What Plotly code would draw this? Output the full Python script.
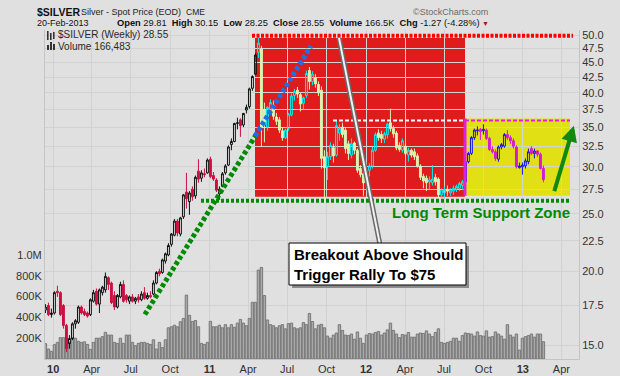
import math
import pandas as pd
import plotly.graph_objects as go

# ---------------- data (weekly, week starting Monday) ----------------
dates = pd.date_range("2009-12-14", periods=167, freq="7D")

opens = [17.2, 17.5, 16.9, 17.0, 18.5, 18.4, 17.5, 16.2, 15.1, 15.4,
         16.3, 16.4, 17.4, 17.1, 17.0, 16.9, 17.8, 18.5, 17.6, 18.4,
         18.6, 19.5, 19.1, 18.2, 17.4, 18.1, 19.0, 18.2, 17.8, 18.1,
         17.8, 18.1, 17.9, 18.4, 18.0, 18.2, 18.3, 19.1, 20.0, 19.9,
         20.8, 21.3, 22.2, 23.0, 24.3, 23.1, 24.7, 27.2, 26.2, 27.5,
         26.8, 29.5, 28.7, 29.2, 29.3, 30.9, 29.0, 28.5, 27.0, 27.8,
         29.3, 30.2, 32.7, 33.1, 35.5, 36.0, 35.3, 37.4, 37.9, 40.7,
         43.0, 46.8, 47.4, 37.5, 35.0, 37.2, 38.1, 36.4, 36.0, 34.5,
         33.6, 34.8, 36.7, 39.6, 40.4, 39.7, 38.4, 39.6, 43.6, 41.8,
         42.4, 41.3, 40.4, 31.2, 30.0, 31.2, 32.3, 31.4, 34.2, 35.0,
         34.6, 32.8, 31.4, 32.9, 32.0, 29.8, 29.2, 28.4, 29.6, 30.1,
         32.0, 34.2, 34.0, 33.4, 34.0, 35.6, 34.8, 34.2, 32.6, 32.0,
         32.5, 31.4, 32.0, 31.8, 31.3, 30.1, 28.9, 28.7, 28.3, 28.2,
         28.8, 28.6, 26.9, 27.1, 27.5, 27.1, 27.3, 27.5, 27.6, 27.9,
         28.3, 30.6, 31.6, 33.6, 34.5, 34.7, 34.5, 34.6, 33.5, 32.1,
         31.8, 30.9, 32.4, 32.5, 34.0, 33.6, 33.2, 32.4, 29.9, 30.0,
         30.1, 30.6, 32.2, 31.6, 31.9, 31.5, 29.81]
highs = [17.6, 17.7, 17.3, 18.5, 18.9, 18.5, 17.6, 16.3, 15.6, 16.4,
         16.6, 17.5, 17.5, 17.3, 17.1, 18.0, 18.6, 18.7, 18.7, 18.9,
         19.9, 19.6, 19.2, 18.5, 18.3, 19.2, 19.3, 18.3, 18.2, 18.3,
         18.1, 18.3, 18.5, 18.8, 18.4, 18.5, 19.3, 20.0, 20.2, 21.0,
         21.5, 22.3, 23.2, 24.5, 24.5, 24.7, 27.0, 29.3, 27.3, 27.8,
         29.0, 30.9, 29.6, 29.8, 31.0, 31.2, 29.4, 28.7, 27.8, 29.4,
         30.3, 32.6, 33.5, 35.6, 36.3, 36.2, 37.0, 38.2, 40.8, 42.8,
         46.6, 49.8, 48.0, 38.5, 38.0, 39.0, 38.8, 37.0, 36.4, 35.0,
         34.8, 37.0, 39.9, 40.6, 40.9, 40.0, 39.4, 43.6, 44.2, 43.5,
         43.0, 41.8, 41.0, 32.0, 31.8, 33.0, 32.8, 35.8, 35.4, 35.6,
         35.0, 33.2, 33.5, 33.1, 32.2, 30.2, 29.6, 29.9, 30.4, 32.4,
         34.3, 34.7, 34.5, 34.4, 35.6, 37.6, 35.2, 34.5, 33.0, 33.5,
         32.8, 32.3, 32.2, 32.2, 31.6, 30.3, 29.2, 29.0, 28.9, 30.2,
         29.2, 28.8, 27.6, 27.8, 27.9, 27.6, 27.9, 28.0, 28.3, 28.5,
         30.8, 31.8, 33.8, 34.8, 35.1, 34.9, 35.4, 34.8, 33.7, 32.5,
         32.1, 32.6, 32.9, 34.2, 34.6, 33.9, 33.5, 32.6, 30.5, 30.5,
         31.0, 32.2, 32.5, 32.2, 32.0, 31.7, 30.15]
lows = [17.0, 16.8, 16.7, 16.9, 18.1, 16.8, 16.0, 14.6, 14.8, 15.3,
        16.0, 16.3, 16.9, 16.8, 16.7, 16.8, 17.7, 17.5, 17.0, 18.2,
        18.4, 18.6, 17.6, 17.2, 17.3, 18.0, 17.7, 17.7, 17.6, 17.7,
        17.6, 17.7, 17.8, 17.9, 17.9, 18.0, 18.2, 19.0, 19.6, 19.8,
        20.6, 21.2, 22.0, 22.9, 22.9, 22.9, 24.5, 25.5, 24.9, 26.3,
        26.5, 28.2, 28.3, 28.8, 29.2, 28.7, 28.4, 27.2, 26.4, 27.7,
        29.1, 30.1, 32.0, 33.0, 34.7, 33.7, 35.0, 36.9, 37.6, 40.3,
        42.8, 45.8, 32.4, 33.0, 34.5, 36.8, 36.0, 35.3, 34.2, 33.2,
        33.4, 34.5, 36.5, 38.8, 39.2, 37.2, 37.5, 39.2, 40.5, 41.2,
        40.8, 39.5, 29.8, 26.4, 28.5, 30.8, 30.5, 31.2, 33.2, 33.6,
        31.6, 30.8, 31.0, 31.5, 29.3, 28.8, 26.8, 28.2, 28.9, 29.8,
        31.8, 33.2, 32.9, 32.9, 33.5, 34.4, 33.6, 32.0, 31.8, 31.7,
        31.3, 30.6, 31.1, 30.8, 29.9, 28.5, 27.6, 27.3, 27.5, 27.9,
        27.9, 26.6, 26.6, 26.6, 26.8, 26.8, 26.9, 27.2, 27.3, 27.4,
        28.0, 30.4, 31.4, 33.3, 33.9, 33.3, 34.0, 33.3, 31.9, 31.6,
        30.7, 30.6, 32.1, 32.3, 33.3, 32.8, 32.2, 29.8, 29.8, 29.1,
        29.8, 30.3, 31.4, 31.0, 31.2, 29.7, 28.25]
closes = [17.4, 16.9, 17.0, 18.4, 18.4, 16.9, 16.2, 14.8, 15.4, 16.3,
          16.5, 17.4, 17.0, 16.9, 16.8, 17.9, 18.4, 17.6, 18.6, 18.8,
          19.6, 19.0, 17.7, 17.4, 18.2, 19.0, 17.8, 17.9, 18.1, 17.8,
          18.0, 17.9, 18.3, 18.0, 18.2, 18.1, 19.1, 19.9, 19.8, 20.9,
          21.4, 22.1, 23.1, 24.3, 23.2, 24.6, 26.9, 26.5, 27.1, 26.7,
          28.8, 28.6, 29.3, 29.1, 30.8, 28.9, 28.6, 27.4, 27.5, 29.2,
          30.1, 32.4, 33.1, 35.5, 35.6, 35.2, 36.9, 37.8, 40.6, 42.6,
          46.3, 48.5, 35.0, 35.4, 37.8, 38.5, 36.5, 35.8, 34.6, 33.6,
          34.6, 36.8, 39.5, 40.2, 39.8, 38.3, 39.2, 43.1, 41.8, 43.0,
          41.4, 40.0, 31.0, 29.9, 31.2, 32.6, 31.3, 35.2, 34.8, 34.0,
          32.2, 31.6, 32.8, 32.0, 29.6, 29.1, 28.2, 29.6, 30.1, 32.0,
          34.0, 33.6, 33.5, 34.1, 35.4, 34.8, 34.1, 32.3, 32.1, 33.2,
          31.6, 32.0, 31.4, 31.2, 30.1, 28.8, 28.4, 28.2, 28.5, 28.6,
          28.3, 26.9, 27.4, 27.5, 27.3, 27.4, 27.6, 27.8, 28.1, 28.3,
          30.6, 31.6, 33.6, 34.6, 34.6, 34.4, 34.7, 33.5, 32.1, 31.8,
          31.0, 32.4, 32.7, 34.0, 33.6, 33.2, 32.5, 30.0, 30.1, 30.2,
          30.7, 31.8, 31.6, 31.9, 31.5, 29.8, 28.55]
volumes_k = [147, 96, 74, 138, 160, 205, 205, 205, 160, 205,
             200, 170, 160, 165, 140, 93, 160, 200, 200, 215,
             256, 230, 230, 160, 150, 200, 150, 230, 230, 160,
             128, 150, 160, 160, 150, 140, 185, 96, 160, 110,
             185, 300, 310, 325, 310, 358, 390, 614, 420, 360,
             370, 310, 150, 140, 160, 362, 310, 310, 325, 300,
             330, 300, 330, 305, 345, 380, 345, 320, 390, 545,
             545, 855, 880, 610, 375, 330, 320, 300, 320, 330,
             290, 340, 345, 300, 290, 300, 350, 330, 438, 360,
             290, 326, 333, 300, 220, 200, 230, 250, 330, 275,
             230, 225, 240, 190, 260, 200, 150, 230, 245, 240,
             255, 265, 230, 250, 280, 345, 275, 240, 205, 235,
             230, 255, 210, 210, 240, 250, 245, 270, 240, 215,
             255, 290, 160, 150, 160, 170, 200, 200, 170, 225,
             250, 245, 240, 220, 260, 225, 220, 270, 210, 215,
             260, 240, 220, 190, 330, 230, 210, 240, 86, 200,
             215, 225, 240, 210, 240, 240, 166]

price_ticks = [15.0, 17.5, 20.0, 22.5, 25.0, 27.5, 30.0, 32.5, 35.0, 37.5,
               40.0, 42.5, 45.0, 47.5, 50.0]
vol_ticks = [200e3, 400e3, 600e3, 800e3, 1.0e6]
vol_tick_text = ["200K", "400K", "600K", "800K", "1.0M"]
x_tick_dates = ["2010-01-01", "2010-04-01", "2010-07-01", "2010-10-01",
                "2011-01-01", "2011-04-01", "2011-07-01", "2011-10-01",
                "2012-01-01", "2012-04-01", "2012-07-01", "2012-10-01",
                "2013-01-01", "2013-04-01"]
x_tick_text = ["<b>10</b>", "Apr", "Jul", "Oct", "<b>11</b>", "Apr", "Jul", "Oct",
               "<b>12</b>", "Apr", "Jul", "Oct", "<b>13</b>", "Apr"]

# annotation geometry (data units)
RED_ZONE = ("2011-04-17", "2012-08-19", 26.7, 49.5)
YELLOW_ZONE = ("2012-08-19", "2013-04-21", 26.8, 36.2)
TOP_LINE = ("2011-04-10", "2013-04-28", 49.9)
SUPPORT_LINE = ("2010-12-12", "2013-04-19", 26.3)
RESIST_LINE_W = ("2011-10-16", "2012-08-19", 35.9)
RESIST_LINE_M = ("2012-08-19", "2013-04-21", 35.9)
GREEN_TREND = ("2010-08-03", 16.9, "2011-04-22", 34.2)
BLUE_TREND = ("2011-04-17", 33.8, "2011-08-26", 48.0)
POINTER = ("2011-10-30", 49.5, "2012-02-02", 22.3)
ARROW_HEAD = ("2013-04-30", 35.2)

# ---------------- figure ----------------
BG = "#e0e0e0"
FONT = "Liberation Sans, Arial, sans-serif"

df = pd.DataFrame({"d": dates, "o": opens, "h": highs, "l": lows, "c": closes,
                   "v": [v * 1000 for v in volumes_k]})

fig = go.Figure()
fig.add_trace(go.Bar(x=df["d"], y=df["v"], yaxis="y",
                     width=7 * 24 * 3600 * 1000 * 0.8,
                     marker=dict(color="#a9a9a9", line=dict(color="#787878", width=1)),
                     hoverinfo="skip"))

split_red = pd.Timestamp(RED_ZONE[0]) + pd.Timedelta(days=3)
split_yel = pd.Timestamp(YELLOW_ZONE[0])
seg_pre = df[df["d"] < split_red]
seg_red = df[(df["d"] >= split_red) & (df["d"] < split_yel)]
seg_yel = df[df["d"] >= split_yel]

styles = [
    (seg_pre, "#111111", "rgba(0,0,0,0)", "#cc1040", "#cc1040"),
    (seg_red, "#00f0f0", "rgba(0,0,0,0)", "#d8f4b4", "#d8f4b4"),
    (seg_yel, "#1414f0", "rgba(0,0,0,0)", "#d41cd4", "#d41cd4"),
]
for seg, il, ifc, dl, dfc in styles:
    fig.add_trace(go.Candlestick(
        x=seg["d"], open=seg["o"], high=seg["h"], low=seg["l"], close=seg["c"],
        yaxis="y2", whiskerwidth=0,
        increasing=dict(line=dict(color=il, width=1), fillcolor=ifc),
        decreasing=dict(line=dict(color=dl, width=1), fillcolor=dfc),
        hoverinfo="skip"))

shapes = []
shapes.append(dict(type="rect", xref="x", yref="y2", x0=RED_ZONE[0], x1=RED_ZONE[1],
                   y0=RED_ZONE[2], y1=RED_ZONE[3], fillcolor="#e01b1b",
                   line=dict(width=0), layer="below"))
shapes.append(dict(type="rect", xref="x", yref="y2", x0=YELLOW_ZONE[0], x1=YELLOW_ZONE[1],
                   y0=YELLOW_ZONE[2], y1=YELLOW_ZONE[3], fillcolor="#e0e014",
                   line=dict(width=0), layer="below"))
shapes.append(dict(type="line", xref="x", yref="y2", x0=YELLOW_ZONE[0], x1=YELLOW_ZONE[0],
                   y0=YELLOW_ZONE[2], y1=YELLOW_ZONE[3],
                   line=dict(color="#e020e0", width=3), layer="above"))
shapes.append(dict(type="line", xref="x", yref="y2", x0=RESIST_LINE_M[0], x1=RESIST_LINE_M[1],
                   y0=RESIST_LINE_M[2], y1=RESIST_LINE_M[2],
                   line=dict(color="#e020e0", width=2, dash="4px,2px"), layer="above"))
shapes.append(dict(type="line", xref="x", yref="y2", x0=RESIST_LINE_W[0], x1=RESIST_LINE_W[1],
                   y0=RESIST_LINE_W[2], y1=RESIST_LINE_W[2],
                   line=dict(color="#ffffff", width=2, dash="4px,2px"), layer="above"))
shapes.append(dict(type="line", xref="x", yref="y2", x0=TOP_LINE[0], x1=TOP_LINE[1],
                   y0=TOP_LINE[2], y1=TOP_LINE[2],
                   line=dict(color="#ff0000", width=4, dash="3px,1.5px"), layer="above"))
shapes.append(dict(type="line", xref="x", yref="y2", x0=SUPPORT_LINE[0], x1=SUPPORT_LINE[1],
                   y0=SUPPORT_LINE[2], y1=SUPPORT_LINE[2],
                   line=dict(color="#008a00", width=4, dash="3px,2px"), layer="above"))
shapes.append(dict(type="line", xref="x", yref="y2", x0=GREEN_TREND[0], y0=GREEN_TREND[1],
                   x1=GREEN_TREND[2], y1=GREEN_TREND[3],
                   line=dict(color="#008a00", width=5, dash="4px,2.5px"), layer="above"))
shapes.append(dict(type="line", xref="x", yref="y2", x0=BLUE_TREND[0], y0=BLUE_TREND[1],
                   x1=BLUE_TREND[2], y1=BLUE_TREND[3],
                   line=dict(color="#1a72e6", width=5, dash="4px,2.5px"), layer="above"))
shapes.append(dict(type="line", xref="x", yref="y2", x0=POINTER[0], y0=POINTER[1],
                   x1=POINTER[2], y1=POINTER[3],
                   line=dict(color="#6a6a6a", width=5), layer="above"))
shapes.append(dict(type="line", xref="x", yref="y2", x0=POINTER[0], y0=POINTER[1],
                   x1=POINTER[2], y1=POINTER[3],
                   line=dict(color="#f2f2f2", width=2), layer="above"))


def px(x):
    return (x - 45) / 534.0


def py(y):
    return (359 - y) / 329.0


# callout box with shadow
shapes.append(dict(type="rect", xref="paper", yref="paper", x0=px(292), x1=px(469),
                   y0=py(288), y1=py(246), fillcolor="#8c8c8c", line=dict(width=0),
                   layer="above"))
shapes.append(dict(type="rect", xref="paper", yref="paper", x0=px(289), x1=px(466),
                   y0=py(285), y1=py(243), fillcolor="#ffffff",
                   line=dict(color="#000000", width=1), layer="above"))
# legend icons
for (a, t, bt) in [(47, 31, 40), (50, 33, 40), (53, 32, 39)]:
    shapes.append(dict(type="rect", xref="paper", yref="paper", x0=px(a), x1=px(a + 1.6),
                       y0=py(bt), y1=py(t), fillcolor="#333333", line=dict(width=0),
                       layer="above"))
for (a, t) in [(47, 45), (50, 42), (53, 44)]:
    shapes.append(dict(type="rect", xref="paper", yref="paper", x0=px(a), x1=px(a + 2),
                       y0=py(50), y1=py(t), fillcolor="#333333", line=dict(width=0),
                       layer="above"))

ann = []


def text(x, y, s, size=11, color="#222222", xanchor="left"):
    ann.append(dict(xref="paper", yref="paper", x=px(x), y=py(y), text=s,
                    showarrow=False, xanchor=xanchor, yanchor="middle", borderpad=0,
                    font=dict(family=FONT, size=size, color=color)))


text(36, 12, "<b>$SILVER</b>", size=10.5, color="#111111")
text(80, 12, "Silver - Spot Price (EOD)", size=9, color="#222222")
text(185, 12, "CME", size=8.5, color="#222222")
text(489, 12, "©StockCharts.com", size=9, color="#6a6a6a", xanchor="right")
text(36, 23, "20-Feb-2013", size=9, color="#111111")
text(116, 23, "<b>Open</b> 29.81  <b>High</b> 30.15  <b>Low</b> 28.25  <b>Close</b> 28.55"
     "  <b>Volume</b> 166.5K  <b>Chg</b> -1.27 (-4.28%)", size=9.3, color="#111111")
text(481, 23, "▼", size=7, color="#b0102a")
text(57, 35, "$SILVER (Weekly) 28.55", size=10, color="#2a2a2a")
text(57, 46, "Volume 166,483", size=10, color="#2a2a2a")

ann.append(dict(xref="paper", yref="paper", x=px(292), y=py(264),
                text="<b>Breakout Above Should<br>Trigger Rally To $75</b>",
                showarrow=False, xanchor="left", yanchor="middle", align="left",
                font=dict(family=FONT, size=15, color="#000000")))
ann.append(dict(xref="paper", yref="paper", x=px(481), y=py(212),
                text="<b>Long Term Support Zone</b>", showarrow=False,
                xanchor="center", yanchor="middle",
                font=dict(family=FONT, size=15, color="#008a00")))
ann.append(dict(xref="x", yref="y2", x=ARROW_HEAD[0], y=math.log10(ARROW_HEAD[1]),
                text="", showarrow=True, arrowhead=2, arrowsize=0.8, arrowwidth=4,
                arrowcolor="#118811", ax=-20, ay=67, standoff=0))

fig.update_layout(
    width=620, height=376,
    margin=dict(l=45, r=41, t=30, b=17, autoexpand=False),
    paper_bgcolor=BG, plot_bgcolor=BG,
    showlegend=False, boxgap=0.1,
    font=dict(family=FONT, size=11, color="#333333"),
    xaxis=dict(type="date", range=["2009-12-13", "2013-05-12"], automargin=False,
               tickvals=x_tick_dates, ticktext=x_tick_text, tickangle=0,
               showgrid=True, gridcolor="#d2d2d2", gridwidth=1,
               showline=True, linecolor="#c4c4c4", zeroline=False,
               rangeslider=dict(visible=False),
               tickfont=dict(family=FONT, size=11, color="#333333")),
    yaxis=dict(side="left", range=[0, 3.163e6], tickvals=vol_ticks, ticktext=vol_tick_text,
               showgrid=False, zeroline=False, showline=True, linecolor="#c4c4c4",
               automargin=False,
               tickfont=dict(family=FONT, size=11, color="#333333")),
    yaxis2=dict(side="right", overlaying="y", type="log", automargin=False,
                range=[math.log10(14.22), math.log10(51.04)],
                tickvals=price_ticks, ticktext=["%.1f" % t for t in price_ticks],
                showgrid=True, gridcolor="#d2d2d2", gridwidth=1, zeroline=False,
                showline=True, linecolor="#c4c4c4",
                tickfont=dict(family=FONT, size=11, color="#333333")),
    shapes=shapes, annotations=ann,
)

fig.write_html("out.html",
               config={"displayModeBar": False, "staticPlot": True},
               post_script="document.body.style.margin='0px';"
                           "document.body.style.background='" + BG + "';")
